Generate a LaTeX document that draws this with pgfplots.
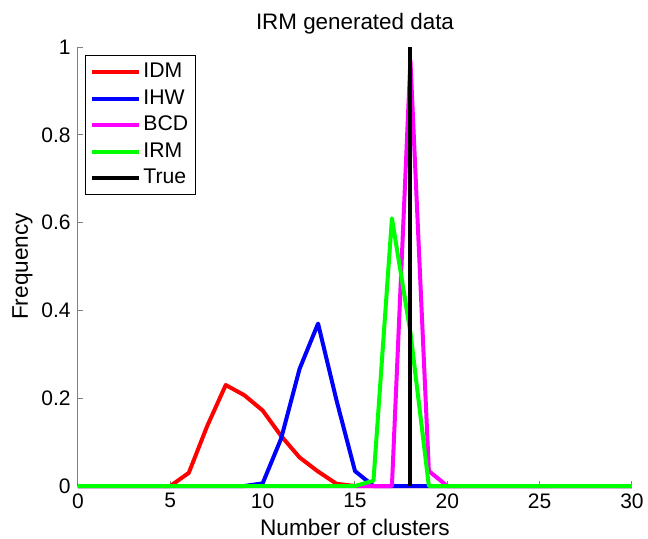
\documentclass[border=0pt]{standalone}
\usepackage{fontspec}
\setmainfont{Liberation Sans}
\usepackage{pgfplots}
\pgfplotsset{compat=1.18}
\definecolor{mred}{rgb}{1,0,0}
\definecolor{mblue}{rgb}{0,0,1}
\definecolor{mmag}{rgb}{1,0,1}
\definecolor{mgreen}{rgb}{0,1,0}
\definecolor{axgray}{rgb}{0.5,0.5,0.5}
\begin{document}
\fontsize{10.5}{12}\selectfont
\begin{tikzpicture}
\begin{axis}[
  scale only axis, width=277pt, height=219.5pt,
  xmin=0, xmax=30, ymin=0, ymax=1,
  axis x line*=bottom, axis y line*=left,
  axis line style={draw=axgray, line width=0.5pt},
  every tick/.style={draw=axgray, line width=0.5pt},
  tick align=inside, major tick length=2.5pt,
  xtick={0,5,...,30}, ytick={0,0.2,0.4,0.6,0.8,1},
  /pgf/number format/assume math mode=true,
  tick label style={font=\fontsize{10.5}{12}\selectfont, text=black},
  title={IRM generated data},
  title style={at={(axis description cs:0.5,1)}, anchor=base, yshift=3pt, font=\fontsize{11.2}{13}\selectfont},
  xlabel={Number of clusters},
  xlabel style={at={(axis description cs:0.5,0)}, anchor=base, yshift=-24.5pt, font=\fontsize{11.3}{13}\selectfont},
  ylabel={Frequency},
  ylabel style={at={(axis description cs:-0.0903,0.5)}, anchor=base, font=\fontsize{11.3}{13}\selectfont},
  clip=false,
  legend image code/.code={\draw[#1] (0pt,0pt) -- (23.5pt,0pt);},
  legend style={at={(axis description cs:0.0126,0.982)}, anchor=north west,
    draw=black, line width=0.5pt, font=\fontsize{10.6}{12}\selectfont,
    inner sep=2.5pt, row sep=1.8pt,
    nodes={inner sep=1pt, text height=7.5pt, text depth=2pt},
    cells={anchor=west}},
  every axis plot/.append style={line width=2pt, line join=round},
]
\addplot[mred] coordinates {(0,0)(1,0)(2,0)(3,0)(4,0)(5,0)(6,0.03)(7,0.137)(8,0.23)(9,0.207)(10,0.172)(11,0.114)(12,0.065)(13,0.033)(14,0.005)(15,0)(16,0)(17,0)(18,0)(19,0)(20,0)(21,0)(22,0)(23,0)(24,0)(25,0)(26,0)(27,0)(28,0)(29,0)(30,0)};
\addlegendentry{IDM}
\addplot[mblue] coordinates {(0,0)(1,0)(2,0)(3,0)(4,0)(5,0)(6,0)(7,0)(8,0)(9,0)(10,0.006)(11,0.108)(12,0.267)(13,0.37)(14,0.195)(15,0.034)(16,0)(17,0)(18,0)(19,0)(20,0)(21,0)(22,0)(23,0)(24,0)(25,0)(26,0)(27,0)(28,0)(29,0)(30,0)};
\addlegendentry{IHW}
\addplot[mmag] coordinates {(0,0)(1,0)(2,0)(3,0)(4,0)(5,0)(6,0)(7,0)(8,0)(9,0)(10,0)(11,0)(12,0)(13,0)(14,0)(15,0)(16,0)(17,0)(18,0.97)(19,0.034)(20,0)(21,0)(22,0)(23,0)(24,0)(25,0)(26,0)(27,0)(28,0)(29,0)(30,0)};
\addlegendentry{BCD}
\addplot[mgreen] coordinates {(0,0)(1,0)(2,0)(3,0)(4,0)(5,0)(6,0)(7,0)(8,0)(9,0)(10,0)(11,0)(12,0)(13,0)(14,0)(15,0)(16,0.012)(17,0.61)(18,0.35)(19,0)(20,0)(21,0)(22,0)(23,0)(24,0)(25,0)(26,0)(27,0)(28,0)(29,0)(30,0)};
\addlegendentry{IRM}
\addplot[black] coordinates {(18,0)(18,1)};
\addlegendentry{True}
\coordinate (bl) at (rel axis cs:-0.1408,-0.1207);
\coordinate (tr) at (rel axis cs:1.0289,1.1071);
\end{axis}
\pgfresetboundingbox
\path (bl) rectangle (tr);
\end{tikzpicture}
\end{document}
